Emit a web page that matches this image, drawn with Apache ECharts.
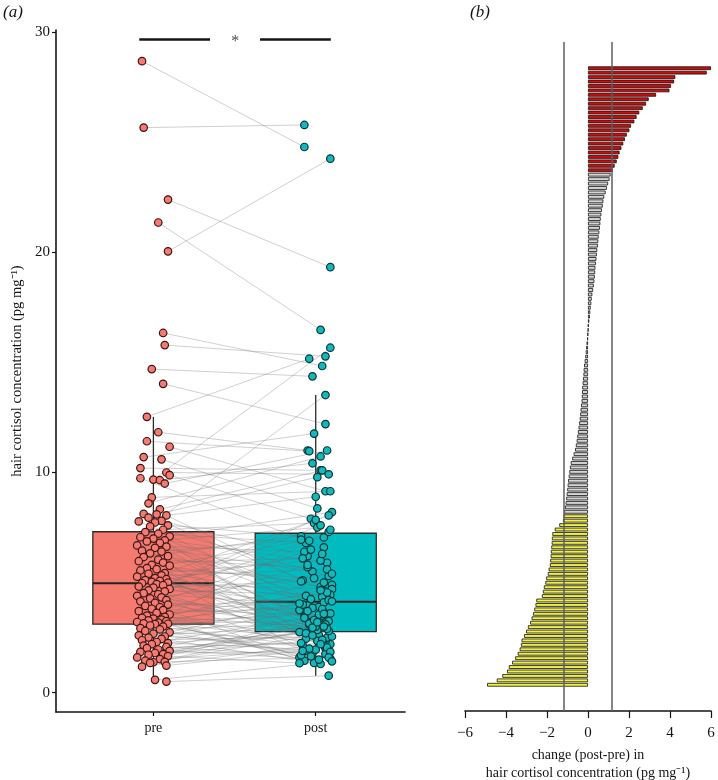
<!DOCTYPE html>
<html><head><meta charset="utf-8">
<script src="https://cdn.jsdelivr.net/npm/echarts@6/dist/echarts.min.js"></script>
<style>html,body{margin:0;padding:0;background:#fff}#c{width:718px;height:780px}</style>
</head><body><div id="c"></div>
<script>
// ---------- Panel (a) data ----------
const groups = ['pre', 'post'];
const preValues = [28.69, 25.67, 22.40, 21.36, 20.05, 16.34, 15.79, 14.70, 14.03, 12.53,
  11.83, 11.42, 11.17, 10.70, 10.60, 10.20, 10.00, 9.88, 9.68, 9.74,
  9.65, 9.50, 8.87, 8.60, 8.33, 8.12, 8.10, 8.05, 7.95, 7.80,
  7.78, 7.73, 7.60, 7.55, 7.40, 7.29, 7.22, 7.10, 7.06, 7.00,
  6.92, 6.87, 6.80, 6.69, 6.63, 6.58, 6.45, 6.41, 6.33, 6.20,
  6.16, 6.04, 5.97, 5.91, 5.80, 5.77, 5.66, 5.61, 5.55, 5.43,
  5.40, 5.33, 5.27, 5.20, 5.16, 5.11, 5.08, 5.03, 5.00, 4.97,
  4.93, 4.88, 4.82, 4.77, 4.71, 4.65, 4.60, 4.52, 4.47, 4.40,
  4.33, 4.28, 4.20, 4.15, 4.08, 4.00, 3.94, 3.88, 3.81, 3.75,
  3.70, 3.62, 3.55, 3.50, 3.44, 3.40, 3.36, 3.32, 3.28, 3.25,
  3.21, 3.18, 3.15, 3.13, 3.11, 3.05, 3.00, 2.93, 2.87, 2.80,
  2.74, 2.68, 2.60, 2.55, 2.50, 2.44, 2.38, 2.30, 2.25, 2.20,
  2.14, 2.08, 2.02, 1.96, 1.90, 1.85, 1.80, 1.75, 1.72, 1.66,
  1.60, 1.52, 1.45, 1.40, 1.38, 1.35, 1.23, 1.18, 0.58, 0.50];
const postValues = [24.79, 25.79, 19.33, 16.48, 24.26, 14.84, 15.28, 14.37, 12.20, 15.17,
  11.00, 10.97, 9.15, 11.77, 8.37, 10.10, 9.92, 7.90, 15.67, 6.60,
  10.42, 11.00, 9.15, 10.73, 10.10, 5.10, 9.79, 4.60, 8.90, 6.20,
  3.90, 13.52, 7.10, 5.30, 7.70, 4.35, 6.80, 8.20, 3.20, 5.90,
  2.75, 7.50, 4.10, 6.40, 3.60, 5.50, 2.00, 6.95, 4.80, 3.30,
  7.30, 5.70, 2.60, 6.10, 4.90, 3.10, 7.05, 5.20, 2.20, 4.40,
  6.00, 3.75, 5.60, 2.90, 4.25, 8.05, 3.45, 6.30, 1.80, 4.70,
  3.95, 7.85, 2.30, 5.05, 3.35, 4.45, 6.90, 2.50, 4.00, 7.60,
  3.05, 5.40, 1.90, 3.65, 6.50, 2.85, 4.20, 1.60, 3.50, 5.80,
  2.10, 3.85, 7.40, 1.45, 3.00, 4.55, 2.65, 4.15, 1.70, 3.55,
  5.00, 2.45, 3.25, 1.35, 4.65, 2.15, 3.80, 1.55, 3.15, 2.35,
  4.05, 1.75, 2.95, 2.05, 3.70, 1.30, 2.55, 3.40, 1.95, 2.80,
  1.65, 3.58, 2.25, 1.50, 3.10, 2.70, 1.85, 3.30, 2.40, 1.34,
  2.90, 2.00, 3.20, 1.60, 2.60, 3.00, 1.90, 2.20, 1.42, 0.77];
// horizontal jitter, in hundredths of a category
const preJitter = [-7, -6, 9, 3, 9, 6, 7, -1, 6, -4, 3, -4, 10, -6, 5, -8, 8, 10, 0, -8,
  4, 7, -1, -3, 4, -6, 2, 8, -3, 5, -9, 1, 9, -2, 6, -5, 3, 10, -8, 0,
  7, -4, 4, -10, 8, 1, -7, 5, -2, 9, -6, 3, -9, 6, -1, 10, -4, 2, -8, 7,
  -3, 5, -10, 1, 8, -5, 4, -1, 9, -7, 2, 6, -9, 0, 10, -3, 7, -6, 3, -10,
  5, -2, 8, -8, 1, 9, -5, 4, -1, 6, -9, 2, 10, -4, 7, -7, 0, 5, -3, 8,
  -10, 3, -6, 9, 1, -2, 6, -8, 4, -5, 10, 0, -9, 7, -3, 5, -7, 2, 9, -1,
  -6, 8, -4, 3, 10, -8, 1, 6, -3, 9, -10, 4, -5, 7, 0, -2, 8, -7, 1, 8];
const postJitter = [-7, -7, 9, 3, 9, 4, 6, -2, 6, -4, -5, -4, 6, -1, 1, 3, 8, -3, 9, 5,
  -2, 7, 9, 3, 4, -8, 1, 6, 0, -5, 2, 6, -9, 8, -1, 4, -6, 10, -3, 7,
  -10, 1, 5, -7, 9, -2, 6, -9, 3, 0, 8, -5, 2, -8, 10, -4, 5, -1, 9, -6,
  3, -10, 7, 1, -3, 8, -7, 4, -2, 10, -5, 0, 6, -9, 2, 9, -4, 7, -8, 3,
  -1, 10, -6, 5, -3, 1, 8, -10, 4, -5, 6, -2, 9, -7, 0, 7, -3, 10, -9, 2,
  5, -6, 8, -1, 3, -8, 4, 9, -4, 1, -10, 6, -2, 7, -5, 3, 10, -7, 0, 8,
  -3, 5, -9, 2, 6, -6, 9, -1, 4, -10, 7, -4, 1, 8, -2, 5, -8, 3, 10, 8];
const boxMin = [0.50, 0.77];
const boxQ1 = [3.11, 2.77];
const boxMedian = [4.97, 4.13];
const boxQ3 = [7.31, 7.24];
const boxMax = [12.53, 13.52];
const yTicksA = [0, 10, 20, 30];
const sigY = 29.7;
const sigLeft = [0.913, 1.349];
const sigRight = [1.657, 2.093];
const sigStarX = 1.505;

// ---------- Panel (b) data ----------
const changeValues = [6.00, 5.79, 4.26, 4.20, 4.05, 3.97, 3.32, 2.96, 2.83, 2.67,
  2.50, 2.37, 2.26, 2.10, 2.02, 1.89, 1.80, 1.72, 1.63, 1.54,
  1.48, 1.40, 1.30, 1.20,
  1.10, 1.05, 0.98, 0.92, 0.86, 0.79, 0.75, 0.72, 0.68, 0.65,
  0.62, 0.60, 0.58, 0.55, 0.52, 0.50, 0.48, 0.45, 0.43, 0.41,
  0.38, 0.36, 0.35, 0.33, 0.31, 0.28, 0.25, 0.21, 0.18, 0.16,
  0.13, 0.11, 0.09, 0.06, 0.03, 0.01, -0.02, -0.04, -0.07, -0.09,
  -0.11, -0.13, -0.16, -0.19, -0.21, -0.22, -0.24, -0.26, -0.28, -0.29,
  -0.30, -0.31, -0.34, -0.36, -0.38, -0.40, -0.43, -0.46, -0.49, -0.52,
  -0.55, -0.59, -0.63, -0.70, -0.77, -0.84, -0.88, -0.91, -0.94, -0.97,
  -0.99, -1.01, -1.04, -1.06, -1.09, -1.12, -1.16,
  -1.19, -1.22, -1.40, -1.62, -1.74, -1.76, -1.77, -1.79, -1.81, -1.82,
  -1.84, -1.86, -1.92, -1.96, -2.04, -2.08, -2.15, -2.20, -2.25, -2.52,
  -2.56, -2.62, -2.68, -2.75, -2.82, -2.93, -3.02, -3.12, -3.24, -3.27,
  -3.33, -3.43, -3.55, -3.70, -3.86, -3.95, -4.18, -4.45, -4.92];
const rcv = 1.18;
const xTicksB = [-6, -4, -2, 0, 2, 4, 6];

// ---------- chart ----------
const FONT = '"Liberation Serif","Times New Roman",serif';
const INK = '#151515';
const boxFill = ['#F57A70', '#00BCC1'];
const ptFill = ['#F47A72', '#12B8BC'];
const ptBorder = ['#3a1614', '#0b3535'];

const chart = echarts.init(document.getElementById('c'), null, {renderer: 'canvas'});

const axisLineStyle = {show: true, onZero: false, lineStyle: {color: INK, width: 1.6}};

const option = {
  animation: false,
  backgroundColor: '#fff',
  grid: [
    {left: 56, top: 30.1, width: 349, height: 681.9, outerBoundsMode: 'none', containLabel: false},
    {left: 465, top: 42, width: 246, height: 669, outerBoundsMode: 'none', containLabel: false},
    {left: 465, top: 66, width: 246, height: 621, outerBoundsMode: 'none', containLabel: false}
  ],
  xAxis: [
    {gridIndex: 0, type: 'value', min: 0.4, max: 2.55,
      axisLine: axisLineStyle,
      axisTick: {show: true, customValues: [1, 2], length: 4, lineStyle: {color: INK, width: 1.2}},
      axisLabel: {customValues: [1, 2], formatter: v => groups[Math.round(v) - 1], fontFamily: FONT, fontSize: 14, color: INK, margin: 9},
      splitLine: {show: false}},
    {gridIndex: 1, type: 'value', min: -6, max: 6,
      axisLine: axisLineStyle,
      axisTick: {show: true, customValues: xTicksB, length: 7, lineStyle: {color: INK, width: 1.2}},
      axisLabel: {customValues: xTicksB, formatter: v => (v < 0 ? '\u2212' + Math.abs(v) : String(v)), fontFamily: FONT, fontSize: 15, color: INK, margin: 15},
      splitLine: {show: false},
      name: 'change (post-pre) in\nhair cortisol concentration (pg mg\u207B\u00B9)',
      nameLocation: 'middle', nameGap: 31,
      nameTextStyle: {fontFamily: FONT, fontSize: 14, lineHeight: 18, color: INK}},
    {gridIndex: 2, type: 'value', min: -6, max: 6, show: false}
  ],
  yAxis: [
    {gridIndex: 0, type: 'value', min: -0.88, max: 30.1,
      axisLine: axisLineStyle,
      axisTick: {show: true, customValues: yTicksA, length: 4, lineStyle: {color: INK, width: 1.2}},
      axisLabel: {customValues: yTicksA, fontFamily: FONT, fontSize: 15, color: INK, margin: 6},
      splitLine: {show: false},
      name: 'hair cortisol concentration (pg mg\u207B\u00B9)',
      nameLocation: 'middle', nameGap: 31,
      nameTextStyle: {fontFamily: FONT, fontSize: 14.5, color: INK}},
    {gridIndex: 1, type: 'value', min: 0, max: 1, show: false},
    {gridIndex: 2, type: 'category', inverse: true, show: false,
      data: changeValues.map((_, i) => String(i + 1))}
  ],
  graphic: [
    {type: 'text', left: 3, top: 4, style: {text: '(a)', font: 'italic 17px ' + FONT, fill: INK}},
    {type: 'text', left: 470, top: 4, style: {text: '(b)', font: 'italic 17px ' + FONT, fill: INK}}
  ],
  series: [
    {
      type: 'custom', xAxisIndex: 0, yAxisIndex: 0, z: 1, silent: true,
      data: groups.map((g, i) => [i + 1, boxMin[i], boxQ1[i], boxMedian[i], boxQ3[i], boxMax[i]]),
      encode: {x: 0, y: [1, 2, 3, 4, 5]},
      renderItem: function (params, api) {
        const x = api.value(0);
        const lo = api.coord([x, api.value(1)]);
        const q1 = api.coord([x, api.value(2)]);
        const md = api.coord([x, api.value(3)]);
        const q3 = api.coord([x, api.value(4)]);
        const hi = api.coord([x, api.value(5)]);
        const hw = api.size([0.373, 0])[0];
        const col = boxFill[params.dataIndex];
        return {type: 'group', children: [
          {type: 'line', shape: {x1: lo[0], y1: lo[1], x2: q1[0], y2: q1[1]}, style: {stroke: '#2a2a2a', lineWidth: 1.3}},
          {type: 'line', shape: {x1: q3[0], y1: q3[1], x2: hi[0], y2: hi[1]}, style: {stroke: '#2a2a2a', lineWidth: 1.3}},
          {type: 'rect', shape: {x: q3[0] - hw, y: q3[1], width: 2 * hw, height: q1[1] - q3[1]},
            style: {fill: col, stroke: '#2a2a2a', lineWidth: 1.3}},
          {type: 'line', shape: {x1: md[0] - hw, y1: md[1], x2: md[0] + hw, y2: md[1]}, style: {stroke: '#222', lineWidth: 2.2}}
        ]};
      }
    },
    {
      type: 'lines', coordinateSystem: 'cartesian2d', xAxisIndex: 0, yAxisIndex: 0, z: 2, silent: true,
      lineStyle: {color: '#6e6e6e', opacity: 0.32, width: 1},
      data: preValues.map((v, i) => ({coords: [[1 + preJitter[i] / 100, v], [2 + postJitter[i] / 100, postValues[i]]]}))
    },
    {
      type: 'scatter', xAxisIndex: 0, yAxisIndex: 0, z: 3, symbolSize: 7.5,
      itemStyle: {color: ptFill[0], borderColor: ptBorder[0], borderWidth: 1.2, opacity: 1},
      data: preValues.map((v, i) => [1 + preJitter[i] / 100, v])
    },
    {
      type: 'scatter', xAxisIndex: 0, yAxisIndex: 0, z: 3, symbolSize: 7.5,
      itemStyle: {color: ptFill[1], borderColor: ptBorder[1], borderWidth: 1.2, opacity: 1},
      data: postValues.map((v, i) => [2 + postJitter[i] / 100, v])
    },
    {
      type: 'lines', coordinateSystem: 'cartesian2d', xAxisIndex: 0, yAxisIndex: 0, z: 4, silent: true,
      lineStyle: {color: INK, width: 2.6, opacity: 1},
      data: [sigLeft, sigRight].map(s => ({coords: [[s[0], sigY], [s[1], sigY]]}))
    },
    {
      type: 'scatter', xAxisIndex: 0, yAxisIndex: 0, z: 4, symbolSize: 0, silent: true,
      data: [[sigStarX, sigY]],
      label: {show: true, position: 'inside', formatter: '*', fontFamily: FONT, fontSize: 16, color: INK, offset: [0, 3]}
    },
    {
      type: 'bar', xAxisIndex: 2, yAxisIndex: 2, z: 2, barCategoryGap: '16%', silent: true,
      itemStyle: {borderColor: '#111', borderWidth: 0.8},
      data: changeValues.map(v => ({value: v, itemStyle: {color: v > rcv ? '#D40A0A' : (v < -rcv ? '#F2F23A' : '#D6D6D6')}}))
    },
    {
      type: 'line', xAxisIndex: 1, yAxisIndex: 1, z: 5, data: [], silent: true,
      markLine: {symbol: ['none', 'none'], silent: true, animation: false, label: {show: false},
        lineStyle: {color: '#5e5e5e', width: 1.5, type: 'solid'},
        data: [{xAxis: -rcv}, {xAxis: rcv}]}
    }
  ]
};
chart.setOption(option);
</script>
</body></html>
